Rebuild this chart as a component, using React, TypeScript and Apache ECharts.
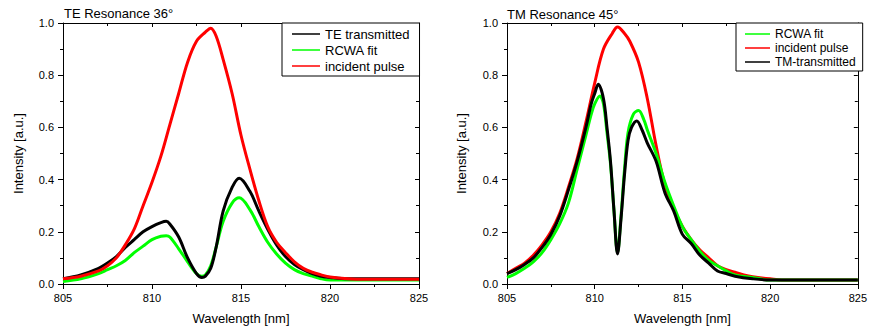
import React, { useEffect, useRef } from "react";
import * as echarts from "echarts";

// ---------- TE Resonance 36° (left) ----------
const teTransX = [805, 806, 807, 807.5, 808, 808.5, 809, 809.5, 810, 810.5, 810.8, 811, 811.5, 812, 812.5, 812.8, 813, 813.3, 813.6, 814, 814.5, 814.9, 815.5, 816, 816.5, 817, 817.5, 818, 818.5, 819, 819.5, 820, 821, 822, 823, 824, 825];
const teTransY = [0.02, 0.035, 0.06, 0.08, 0.105, 0.14, 0.17, 0.2, 0.22, 0.235, 0.24, 0.23, 0.18, 0.1, 0.04, 0.025, 0.03, 0.06, 0.14, 0.28, 0.37, 0.405, 0.355, 0.28, 0.21, 0.15, 0.105, 0.075, 0.055, 0.04, 0.03, 0.025, 0.02, 0.02, 0.02, 0.02, 0.02];

const teFitX = [805, 806, 807, 807.5, 808, 808.5, 809, 809.5, 810, 810.5, 810.8, 811, 811.5, 812, 812.5, 812.8, 813, 813.3, 813.6, 814, 814.5, 814.9, 815.5, 816, 816.5, 817, 817.5, 818, 818.5, 819, 819.5, 820, 821, 822, 823, 824, 825];
const teFitY = [0.01, 0.02, 0.04, 0.055, 0.07, 0.09, 0.12, 0.145, 0.17, 0.183, 0.185, 0.18, 0.135, 0.085, 0.04, 0.03, 0.035, 0.07, 0.14, 0.24, 0.31, 0.33, 0.285, 0.22, 0.16, 0.115, 0.08, 0.055, 0.04, 0.03, 0.02, 0.015, 0.015, 0.015, 0.015, 0.015, 0.015];

const teIncX = [805, 806, 807, 807.5, 808, 808.5, 809, 809.5, 810, 810.5, 811, 811.5, 812, 812.5, 813, 813.3, 813.6, 814, 814.5, 815, 815.5, 816, 816.5, 817, 817.5, 818, 818.5, 819, 819.5, 820, 821, 822, 823, 824, 825];
const teIncY = [0.02, 0.03, 0.05, 0.07, 0.1, 0.15, 0.21, 0.3, 0.39, 0.49, 0.61, 0.73, 0.85, 0.93, 0.965, 0.98, 0.95, 0.86, 0.73, 0.57, 0.44, 0.32, 0.22, 0.16, 0.12, 0.085, 0.06, 0.045, 0.035, 0.027, 0.02, 0.018, 0.018, 0.018, 0.018];

// ---------- TM Resonance 45° (right) ----------
const tmFitX = [805, 805.5, 806, 806.5, 807, 807.5, 808, 808.5, 809, 809.5, 809.8, 810, 810.3, 810.5, 810.7, 810.9, 811.1, 811.3, 811.5, 811.7, 811.9, 812.2, 812.5, 812.8, 813, 813.5, 814, 814.5, 815, 815.5, 816, 816.5, 817, 817.5, 818, 819, 820, 821, 822, 823, 824, 825];
const tmFitY = [0.025, 0.04, 0.06, 0.085, 0.12, 0.17, 0.23, 0.31, 0.44, 0.57, 0.65, 0.69, 0.72, 0.69, 0.58, 0.46, 0.28, 0.12, 0.26, 0.44, 0.58, 0.65, 0.665, 0.63, 0.59, 0.5, 0.39, 0.3, 0.22, 0.17, 0.125, 0.09, 0.07, 0.05, 0.035, 0.025, 0.015, 0.015, 0.015, 0.015, 0.015, 0.015];

const tmIncX = [805, 805.5, 806, 806.5, 807, 807.5, 808, 808.5, 809, 809.5, 810, 810.5, 811, 811.3, 811.7, 812, 812.5, 813, 813.5, 814, 814.5, 815, 815.5, 816, 816.5, 817, 817.5, 818, 818.5, 819, 820, 821, 822, 823, 824, 825];
const tmIncY = [0.04, 0.06, 0.08, 0.11, 0.15, 0.2, 0.27, 0.37, 0.48, 0.62, 0.77, 0.9, 0.96, 0.985, 0.96, 0.93, 0.85, 0.71, 0.53, 0.38, 0.29, 0.22, 0.17, 0.13, 0.1, 0.07, 0.055, 0.045, 0.035, 0.028, 0.02, 0.015, 0.015, 0.015, 0.015, 0.015];

const tmTransX = [805, 805.5, 806, 806.5, 807, 807.5, 808, 808.5, 809, 809.5, 809.8, 810, 810.2, 810.5, 810.7, 810.9, 811.1, 811.3, 811.5, 811.7, 811.9, 812.1, 812.4, 812.7, 813, 813.5, 814, 814.5, 815, 815.5, 816, 816.5, 817, 817.5, 818, 819, 820, 821, 822, 823, 824, 825];
const tmTransY = [0.04, 0.055, 0.075, 0.1, 0.14, 0.19, 0.26, 0.36, 0.47, 0.6, 0.69, 0.73, 0.765, 0.71, 0.6, 0.47, 0.28, 0.115, 0.25, 0.42, 0.55, 0.6, 0.625, 0.59, 0.54, 0.47, 0.35, 0.28, 0.19, 0.155, 0.11, 0.08, 0.05, 0.04, 0.03, 0.02, 0.015, 0.015, 0.015, 0.015, 0.015, 0.015];

const xTicks = { min: 805, max: 825, interval: 5 };
const yTicks = { min: 0, max: 1, interval: 0.2 };

const FONT = "'Liberation Sans', Arial, sans-serif";

const pairs = (xs: number[], ys: number[]) => xs.map((x, i) => [x, ys[i]]);

export default function App() {
  const ref = useRef<HTMLDivElement>(null);
  useEffect(() => {
    if (!ref.current) return;
    const chart = echarts.init(ref.current, undefined, { renderer: "svg" });
    const grids = [
      { left: 63, top: 23, width: 356, height: 264 },
      { left: 507, top: 23, width: 356, height: 264 },
    ];
    const mainX = (g: number) => ({
      type: "value",
      gridIndex: g,
      min: xTicks.min,
      max: xTicks.max,
      interval: xTicks.interval,
      name: "Wavelength [nm]",
      nameLocation: "middle",
      nameGap: 28,
      nameTextStyle: { fontSize: 13, color: "#000", fontFamily: FONT },
      axisLine: { show: true, onZero: false, lineStyle: { color: "#000", width: 1 } },
      axisTick: { show: true, length: 5, lineStyle: { color: "#000" } },
      minorTick: { show: true, splitNumber: 2, length: 3, lineStyle: { color: "#000" } },
      axisLabel: { fontSize: 11, color: "#000", fontFamily: FONT, margin: 8 },
      splitLine: { show: false },
    });
    const topX = (g: number) => ({
      type: "value",
      gridIndex: g,
      position: "top",
      min: xTicks.min,
      max: xTicks.max,
      interval: xTicks.interval,
      axisLine: { show: true, onZero: false, lineStyle: { color: "#000", width: 1 } },
      axisTick: { show: true, inside: true, length: 4, lineStyle: { color: "#000" } },
      minorTick: { show: true, splitNumber: 2, length: 3, lineStyle: { color: "#000" } },
      axisLabel: { show: false },
      splitLine: { show: false },
    });
    const mainY = (g: number, gap: number) => ({
      type: "value",
      gridIndex: g,
      min: yTicks.min,
      max: yTicks.max,
      interval: yTicks.interval,
      name: "Intensity [a.u.]",
      nameLocation: "middle",
      nameGap: gap,
      nameTextStyle: { fontSize: 13, color: "#000", fontFamily: FONT },
      axisLine: { show: true, onZero: false, lineStyle: { color: "#000", width: 1 } },
      axisTick: { show: true, length: 5, lineStyle: { color: "#000" } },
      minorTick: { show: true, splitNumber: 2, length: 3, lineStyle: { color: "#000" } },
      axisLabel: {
        fontSize: 11,
        color: "#000",
        fontFamily: FONT,
        margin: 9,
        formatter: (v: number) => v.toFixed(1),
      },
      splitLine: { show: false },
    });
    const rightY = (g: number) => ({
      type: "value",
      gridIndex: g,
      position: "right",
      min: yTicks.min,
      max: yTicks.max,
      interval: yTicks.interval,
      axisLine: { show: true, onZero: false, lineStyle: { color: "#000", width: 1 } },
      axisTick: { show: true, inside: true, length: 4, lineStyle: { color: "#000" } },
      minorTick: { show: true, splitNumber: 2, length: 3, lineStyle: { color: "#000" } },
      axisLabel: { show: false },
      splitLine: { show: false },
    });
    const line = (name: string, color: string, data: number[][], xi: number, yi: number, z: number, w = 3) => ({
      type: "line",
      name,
      data,
      xAxisIndex: xi,
      yAxisIndex: yi,
      showSymbol: false,
      symbol: "none",
      smooth: 0.35,
      z,
      lineStyle: { color, width: w },
      itemStyle: { color },
    });
    const legendBase = {
      orient: "vertical",
      icon: "rect",
      itemHeight: 1.5,
      borderColor: "#000",
      borderWidth: 1,
      borderRadius: 0,
      backgroundColor: "#fff",
      itemGap: 0,
      selectedMode: false,
    };
    chart.setOption({
      animation: false,
      backgroundColor: "#fff",
      title: [
        { text: "TE Resonance 36°", left: 64, top: 7, textStyle: { fontSize: 13, fontWeight: "normal", color: "#000", fontFamily: FONT } },
        { text: "TM Resonance 45°", left: 507, top: 8, textStyle: { fontSize: 13, fontWeight: "normal", color: "#000", fontFamily: FONT } },
      ].map((t) => ({ ...t, padding: 0 })),
      grid: grids,
      xAxis: [mainX(0), mainX(1), topX(0), topX(1)],
      yAxis: [mainY(0, 38), mainY(1, 39), rightY(0), rightY(1)],
      legend: [
        {
          ...legendBase,
          left: 282,
          top: 23,
          padding: [3, 10, 2, 10],
          itemWidth: 28,
          itemTextGap: 3,
          textStyle: { fontSize: 13, lineHeight: 16, color: "#000", fontFamily: FONT },
          data: ["TE transmitted", "RCWA fit", "incident pulse"],
        },
        {
          ...legendBase,
          left: 736,
          top: 23,
          padding: [4, 7, 2, 9],
          itemWidth: 25,
          itemTextGap: 4,
          textStyle: { fontSize: 12, lineHeight: 14, color: "#000", fontFamily: FONT },
          data: ["RCWA fit", "incident pulse", "TM-transmitted"],
        },
      ],
      series: [
        line("RCWA fit", "#00ff00", pairs(teFitX, teFitY), 0, 0, 2),
        line("TE transmitted", "#000000", pairs(teTransX, teTransY), 0, 0, 3),
        line("incident pulse", "#ff0000", pairs(teIncX, teIncY), 0, 0, 4),
        line("incident pulse", "#ff0000", pairs(tmIncX, tmIncY), 1, 1, 2),
        line("RCWA fit", "#00ff00", pairs(tmFitX, tmFitY), 1, 1, 3),
        line("TM-transmitted", "#000000", pairs(tmTransX, tmTransY), 1, 1, 4),
      ],
    });
    return () => chart.dispose();
  }, []);
  return (
    <div
      ref={ref}
      style={{ position: "fixed", left: 0, top: 0, width: 870, height: 330, background: "#fff" }}
    />
  );
}
